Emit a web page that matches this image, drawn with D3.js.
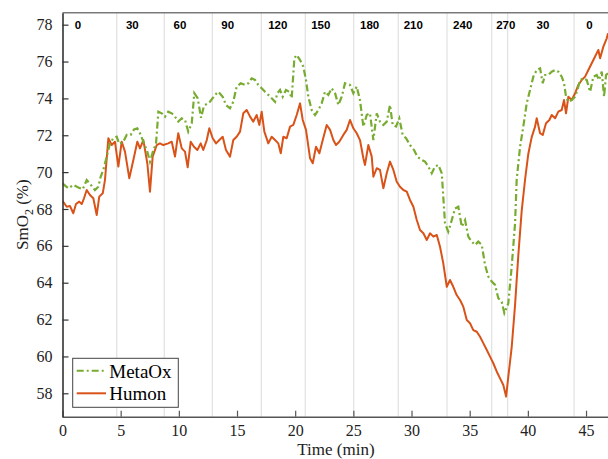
<!DOCTYPE html>
<html>
<head>
<meta charset="utf-8">
<script src="https://cdn.jsdelivr.net/npm/d3@7"></script>
<style>
  html, body { margin: 0; padding: 0; background: #fff; }
  svg { display: block; }
</style>
</head>
<body>
<script>
// ---------------- DATA ----------------
const seriesNames = ["MetaOx", "Humon"];
const xTicks = [0, 5, 10, 15, 20, 25, 30, 35, 40, 45];
const yTicks = [58, 60, 62, 64, 66, 68, 70, 72, 74, 76, 78];
const stageLines = [4.66, 8.75, 12.88, 17.09, 20.87, 25.03, 28.86, 33.05, 36.89, 38.26, 43.97];
const stageLabels = ["0", "30", "60", "90", "120", "150", "180", "210", "240", "270", "30", "0"];
const stageLabelTimes = [1.33, 6.0, 10.1, 14.2, 18.5, 22.2, 26.4, 30.15, 34.4, 38.1, 41.3, 45.3];

const humonTime = [0,0.36,0.64,0.93,1.16,1.44,1.65,1.85,2.08,2.36,2.65,2.94,3.16,3.46,3.65,3.94,4.23,4.51,4.80,5.09,5.37,5.74,6.09,6.43,6.66,6.95,7.29,7.52,7.75,8.10,8.38,8.66,9.09,9.39,9.67,9.95,10.25,10.53,10.76,11.02,11.30,11.59,11.88,12.10,12.40,12.62,12.91,13.20,13.48,13.77,14.05,14.40,14.68,14.97,15.26,15.54,15.83,16.12,16.40,16.69,16.92,17.12,17.35,17.69,17.98,18.27,18.55,18.76,18.98,19.27,19.56,19.84,20.13,20.42,20.65,20.93,21.28,21.51,21.79,22.08,22.37,22.71,23.00,23.28,23.51,23.79,24.14,24.43,24.71,25.00,25.29,25.57,25.86,26.00,26.29,26.58,26.72,27.01,27.29,27.58,27.87,28.15,28.44,28.73,29.01,29.30,29.59,29.87,30.16,30.45,30.73,31.02,31.31,31.59,31.88,32.17,32.45,32.73,33.03,33.31,33.59,33.88,34.17,34.45,34.75,35.03,35.31,35.61,35.89,36.18,36.47,36.75,37.03,37.33,37.61,37.89,38.13,38.32,38.61,38.90,39.18,39.47,39.76,40.04,40.33,40.62,40.76,41.05,41.28,41.56,41.85,42.05,42.34,42.62,42.91,43.11,43.28,43.48,43.77,44.06,44.34,44.63,44.92,45.20,45.49,45.77,46.06,46.21,46.49,46.78,46.89];
const humonValues = [68.45,68.12,68.16,67.77,68.27,68.40,68.27,68.58,69.03,68.76,68.58,67.67,68.67,68.85,69.57,71.84,71.47,71.65,70.30,71.65,71.11,69.67,70.66,71.65,71.29,71.74,70.48,68.94,70.84,71.47,71.56,71.47,71.56,71.65,70.84,72.11,71.29,71.11,70.26,71.65,71.38,71.20,71.56,71.20,71.74,72.38,71.84,71.56,71.74,71.92,71.20,70.84,71.74,71.92,72.20,73.19,73.37,73.01,72.74,73.10,72.56,73.28,72.20,71.56,71.92,71.74,71.56,71.02,71.92,71.84,72.47,72.56,73.10,73.73,72.83,72.29,70.75,70.48,71.38,71.02,71.74,72.56,72.29,71.74,71.47,71.65,72.02,72.29,72.83,72.38,72.11,71.74,70.75,70.39,71.47,70.84,69.75,70.21,70.12,69.12,69.94,70.57,70.12,69.48,69.21,69.03,68.94,68.49,68.12,67.40,66.86,66.68,66.32,66.68,66.50,66.59,65.95,65.05,63.78,64.15,63.78,63.33,63.06,62.70,61.98,61.80,61.43,61.34,61.07,60.71,60.35,59.99,59.63,59.17,58.81,58.45,57.82,58.90,60.50,62.80,65.50,67.90,69.60,71.00,71.90,72.47,72.92,72.11,72.02,72.65,72.83,73.10,72.92,73.28,73.37,73.91,73.19,74.09,73.91,74.28,74.73,75.00,75.18,75.54,75.91,76.26,76.63,76.18,76.81,77.26,77.53];

const metaOxTime = [0,0.50,0.93,1.36,1.74,2.08,2.51,2.79,3.08,3.28,3.51,3.80,4.08,4.37,4.66,4.88,5.23,5.52,5.86,6.15,6.43,6.66,6.95,7.29,7.52,7.81,8.04,8.24,8.53,8.81,9.09,9.39,9.67,9.95,10.25,10.53,10.81,11.11,11.33,11.62,11.91,12.16,12.68,13.11,13.39,13.77,14.05,14.40,14.68,14.97,15.32,15.69,15.97,16.26,16.55,16.83,17.12,17.41,17.69,17.98,18.27,18.47,18.70,18.93,19.21,19.50,19.70,19.93,20.13,20.42,20.70,20.93,21.13,21.42,21.71,21.99,22.28,22.56,22.85,23.14,23.43,23.71,24.00,24.28,24.71,25.00,25.29,25.57,25.86,26.15,26.43,26.72,27.01,27.29,27.58,27.87,28.15,28.38,28.67,28.95,29.24,29.53,29.87,30.22,30.50,30.88,31.16,31.45,31.74,32.02,32.31,32.60,32.73,32.88,33.16,33.46,33.74,34.02,34.32,34.60,34.88,35.18,35.46,35.74,36.04,36.32,36.60,36.90,37.18,37.46,37.75,37.98,38.32,38.61,38.90,39.04,39.33,39.61,39.90,40.19,40.47,40.76,41.05,41.28,41.48,41.76,42.05,42.34,42.62,42.91,43.11,43.28,43.48,43.77,44.06,44.26,44.49,44.77,45.06,45.35,45.63,45.92,46.12,46.35,46.55,46.72,46.89];
const metaOxValues = [69.39,69.12,69.30,69.17,69.07,69.57,69.25,69.03,69.21,69.75,70.12,70.84,71.56,71.84,71.92,71.53,71.65,72.02,72.02,72.32,72.38,72.11,71.65,71.11,70.57,71.20,71.56,73.28,73.19,73.01,73.28,73.19,73.01,72.74,72.92,72.83,72.20,72.65,74.28,74.01,72.95,73.60,73.82,74.19,74.36,74.09,73.64,73.46,73.82,74.64,74.82,74.73,74.82,75.09,75.00,74.73,74.55,74.36,74.19,74.01,73.82,74.28,74.46,74.09,74.46,74.36,74.01,76.18,76.36,76.08,75.72,75.00,74.09,73.37,73.10,73.37,73.73,74.36,74.19,74.55,74.28,73.64,74.09,74.82,74.73,74.28,74.64,73.91,72.47,73.10,73.19,71.74,73.19,72.74,72.56,72.74,73.64,72.56,72.47,72.92,72.02,71.84,71.47,71.20,70.84,70.66,70.57,70.30,69.94,70.30,70.39,69.94,68.67,67.22,66.77,67.40,68.03,68.12,67.04,67.40,66.50,66.23,66.05,66.23,66.05,64.96,64.33,64.06,63.88,63.16,62.97,62.35,62.88,64.87,67.22,69.60,71.38,72.47,73.73,74.46,75.18,75.54,75.63,74.82,75.27,75.27,75.45,75.54,75.45,75.18,74.82,74.09,73.82,73.91,74.09,74.46,75.00,75.09,75.00,74.36,75.18,75.27,75.00,75.45,74.09,75.27,75.36];

// ---------------- LAYOUT ----------------
const W = 608, H = 459;
const plot = { left: 62.5, right: 609.3, top: 12.7, bottom: 416.7 };
const colors = { MetaOx: "#77AC30", Humon: "#D95319" };

const x = d3.scaleLinear().domain([0, 47]).range([plot.left, plot.right]);
const y = d3.scaleLinear().domain([56.73, 78.65]).range([plot.bottom, plot.top]);

const svg = d3.select("body").append("svg").attr("width", W).attr("height", H);

svg.append("defs").append("clipPath").attr("id", "clip")
  .append("rect").attr("x", plot.left).attr("y", plot.top)
  .attr("width", plot.right - plot.left).attr("height", plot.bottom - plot.top);

// stage grid lines
svg.append("g").selectAll("line").data(stageLines).join("line")
  .attr("x1", d => x(d)).attr("x2", d => x(d))
  .attr("y1", plot.top).attr("y2", plot.bottom)
  .attr("stroke", "#e3e3e3").attr("stroke-width", 1.3);

// top border
svg.append("line").attr("x1", plot.left).attr("x2", W).attr("y1", plot.top).attr("y2", plot.top)
  .attr("stroke", "#7a7a7a").attr("stroke-width", 1.5);

// stage labels
svg.append("g").selectAll("text").data(stageLabels).join("text")
  .attr("x", (d, i) => x(stageLabelTimes[i]))
  .attr("y", 28.8)
  .attr("text-anchor", "middle")
  .attr("font-family", "Liberation Sans, Arial, sans-serif")
  .attr("font-weight", "bold")
  .attr("font-size", "11.5px")
  .attr("fill", "#000")
  .text(d => d);

// lines
const line = d3.line().x(d => x(d[0])).y(d => y(d[1]));
const humonData = humonTime.map((t, i) => [t, humonValues[i]]);
const metaOxData = metaOxTime.map((t, i) => [t, metaOxValues[i]]);

const lines = svg.append("g").attr("clip-path", "url(#clip)");
lines.append("path").datum(humonData).attr("d", line)
  .attr("fill", "none").attr("stroke", colors.Humon).attr("stroke-width", 2)
  .attr("stroke-linejoin", "round");
lines.append("path").datum(metaOxData).attr("d", line)
  .attr("fill", "none").attr("stroke", colors.MetaOx).attr("stroke-width", 2.2)
  .attr("stroke-dasharray", "7,3,2,3");

// axes
const serif = "Liberation Serif, 'Times New Roman', serif";
const xAxis = svg.append("g").attr("transform", `translate(0,${plot.bottom})`)
  .call(d3.axisBottom(x).tickValues(xTicks).tickSizeInner(-6).tickSizeOuter(0).tickPadding(8).tickFormat(d3.format("d")));
xAxis.select(".domain").attr("stroke", "#555").attr("stroke-width", 1.6)
  .attr("d", `M${plot.left},0.5H${W}`);
xAxis.selectAll(".tick line").attr("stroke", "#555").attr("stroke-width", 1.2);
xAxis.selectAll(".tick text").attr("font-family", serif).attr("font-size", "16px").attr("fill", "#222");

const yAxis = svg.append("g").attr("transform", `translate(${plot.left},0)`)
  .call(d3.axisLeft(y).tickValues(yTicks).tickSizeInner(-6).tickSizeOuter(0).tickPadding(10).tickFormat(d3.format("d")));
yAxis.select(".domain").attr("stroke", "#333").attr("stroke-width", 1.6);
yAxis.selectAll(".tick line").attr("stroke", "#333").attr("stroke-width", 1.2);
yAxis.selectAll(".tick text").attr("font-family", serif).attr("font-size", "16px").attr("fill", "#222");

// axis labels
svg.append("text").attr("x", (plot.left + plot.right) / 2).attr("y", 455)
  .attr("text-anchor", "middle").attr("font-family", serif).attr("font-size", "17px").attr("fill", "#222")
  .text("Time (min)");

const yl = svg.append("text")
  .attr("transform", `translate(28,${(plot.top + plot.bottom) / 2}) rotate(-90)`)
  .attr("text-anchor", "middle").attr("font-family", serif).attr("font-size", "17px").attr("fill", "#222");
yl.append("tspan").text("SmO");
yl.append("tspan").attr("font-size", "12px").attr("dy", 5).text("2");
yl.append("tspan").attr("dy", -5).text(" (%)");

// legend
const lg = svg.append("g");
lg.append("rect").attr("x", 72.7).attr("y", 358.3).attr("width", 105.6).attr("height", 49)
  .attr("fill", "#fff").attr("stroke", "#444").attr("stroke-width", 1);
const legendItems = [
  { name: seriesNames[0], dash: "7,3,2,3", yl: 370.7, yt: 378 },
  { name: seriesNames[1], dash: null, yl: 393.3, yt: 400 }
];
legendItems.forEach(it => {
  lg.append("line").attr("x1", 76.7).attr("x2", 106).attr("y1", it.yl).attr("y2", it.yl)
    .attr("stroke", colors[it.name]).attr("stroke-width", 2)
    .attr("stroke-dasharray", it.dash);
  lg.append("text").attr("x", 109.3).attr("y", it.yt)
    .attr("font-family", serif).attr("font-size", "19px").attr("fill", "#000").text(it.name);
});
</script>
</body>
</html>
